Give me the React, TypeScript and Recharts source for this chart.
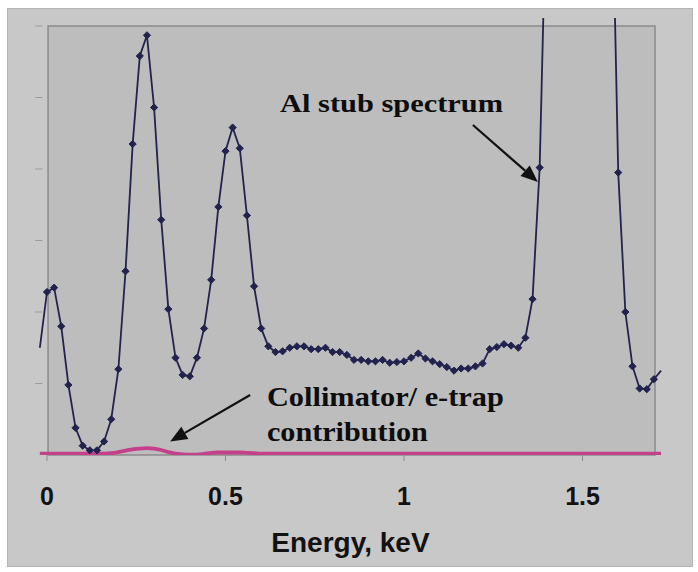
import {
  ComposedChart,
  Line,
  XAxis,
  YAxis,
  ReferenceArea,
  ReferenceLine,
  ReferenceDot,
} from "recharts";

// energy grid, keV (one channel every 0.02 keV)
const energy = [
  -0.02, 0, 0.02, 0.04, 0.06, 0.08, 0.1, 0.12, 0.14, 0.16,
  0.18, 0.2, 0.22, 0.24, 0.26, 0.28, 0.3, 0.32, 0.34, 0.36,
  0.38, 0.4, 0.42, 0.44, 0.46, 0.48, 0.5, 0.52, 0.54, 0.56,
  0.58, 0.6, 0.62, 0.64, 0.66, 0.68, 0.7, 0.72, 0.74, 0.76,
  0.78, 0.8, 0.82, 0.84, 0.86, 0.88, 0.9, 0.92, 0.94, 0.96,
  0.98, 1.0, 1.02, 1.04, 1.06, 1.08, 1.1, 1.12, 1.14, 1.16,
  1.18, 1.2, 1.22, 1.24, 1.26, 1.28, 1.3, 1.32, 1.34, 1.36,
  1.38, 1.4, 1.42, 1.44, 1.46, 1.48, 1.5, 1.52, 1.54, 1.56,
  1.58, 1.6, 1.62, 1.64, 1.66, 1.68, 1.7, 1.72,
];

// Al stub spectrum (arbitrary units, Al K peak runs off the top)
const alStub = [
  1.5, 2.28, 2.34, 1.8, 0.98, 0.38, 0.13, 0.066, 0.066, 0.19,
  0.5, 1.2, 2.57, 4.35, 5.58, 5.87, 4.86, 3.29, 2.04, 1.36,
  1.12, 1.1, 1.36, 1.77, 2.45, 3.47, 4.25, 4.58, 4.29, 3.35,
  2.36, 1.77, 1.52, 1.44, 1.45, 1.5, 1.52, 1.52, 1.48, 1.48,
  1.5, 1.44, 1.44, 1.4, 1.33, 1.33, 1.31, 1.31, 1.33, 1.29,
  1.3, 1.31, 1.36, 1.42, 1.35, 1.31, 1.27, 1.23, 1.18, 1.21,
  1.21, 1.24, 1.28, 1.48, 1.51, 1.55, 1.53, 1.5, 1.64, 2.18,
  4.02, 8.14, 20, 45, 80, 100, 96, 70, 40, 20,
  8.75, 3.95, 2.0, 1.24, 0.93, 0.92, 1.06, 1.18,
];

// collimator / e-trap contribution
const collimator = [
  0.02, 0.02, 0.02, 0.02, 0.02, 0.02, 0.02, 0.02, 0.02, 0.02,
  0.025, 0.04, 0.06, 0.08, 0.09, 0.095, 0.09, 0.07, 0.04, 0.02,
  0.01, 0.005, 0.005, 0.015, 0.03, 0.035, 0.035, 0.035, 0.035, 0.03,
  0.025, 0.02, 0.02, 0.02, 0.02, 0.02, 0.02, 0.02, 0.02, 0.02,
  0.02, 0.02, 0.02, 0.02, 0.02, 0.02, 0.02, 0.02, 0.02, 0.02,
  0.02, 0.02, 0.02, 0.02, 0.02, 0.02, 0.02, 0.02, 0.02, 0.02,
  0.02, 0.02, 0.02, 0.02, 0.02, 0.02, 0.02, 0.02, 0.02, 0.02,
  0.02, 0.02, 0.02, 0.02, 0.02, 0.02, 0.02, 0.02, 0.02, 0.02,
  0.02, 0.02, 0.02, 0.02, 0.02, 0.02, 0.02, 0.02,
];

const xTicks = [0, 0.5, 1, 1.5];
const yTicks = [1, 2, 3, 4, 5, 6];

const X_MIN = -0.04;
const X_MAX = 1.74;
const Y_MAX = 6.112;
const FRAME_X = [0.003, 1.703];
const FRAME_TOP = 6;

const data = energy.map((e, i) => ({ e, al: alStub[i], col: collimator[i] }));

const NAVY = "#22224e";
const MAGENTA = "#c4408a";

function Marker(props: any) {
  const { cx, cy, payload, index } = props;
  if (payload.e < 0 || payload.e > FRAME_X[1] || payload.al > Y_MAX || cx == null)
    return <g key={`m${index}`} />;
  const r = 3.6;
  return (
    <path
      key={`m${index}`}
      d={`M${cx},${cy - r} L${cx + r},${cy} L${cx},${cy + r} L${cx - r},${cy} Z`}
      fill={NAVY}
      stroke={NAVY}
      strokeWidth={1}
    />
  );
}

function Arrow(p: any) {
  const { x1, y1, x2, y2 } = p;
  const a = Math.atan2(y2 - y1, x2 - x1);
  const len = 17;
  const w = 7;
  const bx = x2 - len * Math.cos(a);
  const by = y2 - len * Math.sin(a);
  const nx = -Math.sin(a) * w;
  const ny = Math.cos(a) * w;
  return (
    <g>
      <line x1={x1} y1={y1} x2={bx} y2={by} stroke="#111" strokeWidth={2.2} />
      <polygon
        points={`${x2},${y2} ${bx + nx},${by + ny} ${bx - nx},${by - ny}`}
        fill="#111"
      />
    </g>
  );
}

const note = (text: string, size: number, length: number) => (p: any) => (
  <text
    x={p.cx}
    y={p.cy}
    fontFamily="'Liberation Serif', 'Times New Roman', serif"
    fontWeight="bold"
    fontSize={size}
    fill="#0d0d0d"
    textLength={length}
    lengthAdjust="spacingAndGlyphs"
  >
    {text}
  </text>
);

export default function App() {
  return (
    <div style={{ position: "absolute", left: 0, top: 0, width: 698, height: 572, background: "#fff" }}>
      <div
        style={{
          position: "absolute",
          left: 7,
          top: 8,
          width: 684,
          height: 557,
          background: "#c8c8c8",
          border: "1px solid #b4b4b4",
        }}
      />
      <div style={{ position: "absolute", left: 0, top: 0 }}>
        <ComposedChart
          width={698}
          height={572}
          data={data}
          margin={{ top: 18, right: 29.8, bottom: 0, left: 32.7 }}
        >
          <XAxis
            dataKey="e"
            type="number"
            domain={[X_MIN, X_MAX]}
            ticks={xTicks}
            axisLine={false}
            tickLine={{ stroke: "#8c8c8c" }}
            tickSize={6}
            tickMargin={26}
            height={117}
            tick={{
              fontSize: 25,
              fontWeight: "bold",
              fill: "#121212",
              fontFamily: "'Liberation Sans', Arial, sans-serif",
            }}
            label={{
              value: "Energy, keV",
              position: "insideBottom",
              offset: 20,
              fontSize: 28,
              fontWeight: "bold",
              fill: "#121212",
              fontFamily: "'Liberation Sans', Arial, sans-serif",
            }}
          />
          <YAxis hide domain={[0, Y_MAX]} allowDataOverflow />
          <ReferenceArea
            x1={FRAME_X[0]}
            x2={FRAME_X[1]}
            y1={0}
            y2={FRAME_TOP}
            fill="#bdbdbd"
            fillOpacity={1}
            stroke="#8a8a8a"
            strokeWidth={1.5}
          />
          {yTicks.map((v) => (
            <ReferenceLine
              key={v}
              segment={[
                { x: -0.033, y: v },
                { x: -0.013, y: v },
              ]}
              stroke="#9a9a9a"
              strokeWidth={1}
              ifOverflow="visible"
            />
          ))}
          <Line
            dataKey="al"
            type="linear"
            stroke={NAVY}
            strokeWidth={1.8}
            dot={<Marker />}
            activeDot={false}
            isAnimationActive={false}
          />
          <Line
            dataKey="col"
            type="monotone"
            stroke={MAGENTA}
            strokeWidth={3.8}
            dot={false}
            activeDot={false}
            isAnimationActive={false}
          />
          <ReferenceLine
            segment={[
              { x: 1.193, y: 4.615 },
              { x: 1.375, y: 3.82 },
            ]}
            shape={Arrow}
            ifOverflow="visible"
          />
          <ReferenceLine
            segment={[
              { x: 0.569, y: 0.84 },
              { x: 0.345, y: 0.19 },
            ]}
            shape={Arrow}
            ifOverflow="visible"
          />
          <ReferenceDot x={0.653} y={4.8} r={0} shape={note("Al stub spectrum", 25, 223)} />
          <ReferenceDot x={0.616} y={0.68} r={0} shape={note("Collimator/ e-trap", 27, 237)} />
          <ReferenceDot x={0.616} y={0.195} r={0} shape={note("contribution", 27, 161)} />
        </ComposedChart>
      </div>
    </div>
  );
}
